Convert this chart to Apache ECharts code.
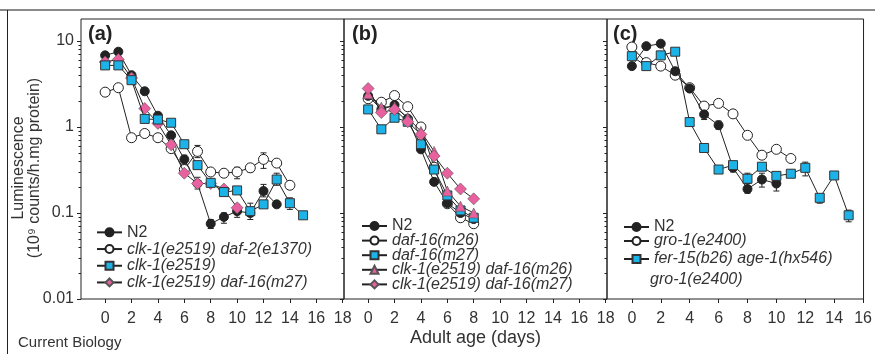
<!DOCTYPE html>
<html>
<head>
<meta charset="utf-8">
<script src="https://cdn.jsdelivr.net/npm/echarts@6/dist/echarts.min.js"></script>
<style>
html, body { margin: 0; background: #fff; }
#chart { width: 875px; height: 354px; }
</style>
</head>
<body>
<div id="chart"></div>
<script>
// x tick labels per panel
const ticksAB = [0, 2, 4, 6, 8, 10, 12, 14, 16, 18]
const ticksC = [0, 2, 4, 6, 8, 10, 12, 14, 16]
// y (log) ticks
const majorY = [0.01, 0.1, 1, 10]
const minorY = [0.02, 0.03, 0.04, 0.05, 0.06, 0.07, 0.08, 0.09,
    0.2, 0.3, 0.4, 0.5, 0.6, 0.7, 0.8, 0.9, 2, 3, 4, 5, 6, 7, 8, 9]

// panel (a): adult age in days = index
const n2A = [6.8, 7.5, 4.0, 2.6, 1.35, 0.80, 0.42, 0.22, 0.075, 0.09, 0.105, 0.10, 0.18, 0.126]
const clkDaf2A = [2.54, 2.86, 0.75, 0.84, 0.75, 0.56, 0.32, 0.52, 0.30, 0.29, 0.30, 0.335, 0.42, 0.38, 0.21]
const clkA = [5.2, 5.2, 3.5, 1.24, 1.22, 1.12, 0.63, 0.36, 0.224, 0.175, 0.183, 0.105, 0.126, 0.245, 0.13, 0.094]
const clkDaf16A = [5.7, 6.1, 3.7, 1.64, 1.1, 0.62, 0.29, 0.22, 0.22, 0.19, 0.115]
// error bars [day, low, high]
const errA = [[7, 0.44, 0.61], [10, 0.25, 0.34], [11, 0.30, 0.37], [12, 0.33, 0.5], [14, 0.19, 0.23],
    [8, 0.066, 0.084], [9, 0.076, 0.1], [10, 0.089, 0.126], [12, 0.154, 0.215], [6, 0.37, 0.47],
    [11, 0.084, 0.13], [13, 0.21, 0.29], [14, 0.11, 0.15], [7, 0.19, 0.26], [2, 0.68, 0.82], [4, 1.1, 1.36]]

// panel (b)
const n2B = [2.3, 1.6, 1.8, 1.25, 0.55, 0.23, 0.13, 0.1, 0.085]
const daf16m26B = [2.13, 1.94, 2.32, 1.72, 1.0, 0.34, 0.128, 0.088, 0.075]
const daf16m27B = [1.6, 0.94, 1.28, 1.15, 0.63, 0.32, 0.16, 0.107, 0.088]
const clkDaf16m26B = [2.43, 1.7, 1.72, 1.28, 0.89, 0.52, 0.18, 0.12, 0.1]
const clkDaf16m27B = [2.8, 1.47, 1.6, 1.15, 0.82, 0.46, 0.29, 0.19, 0.146]

// panel (c)
const n2C = [5.1, 8.7, 9.3, 4.45, 2.8, 1.40, 1.05, 0.336, 0.19, 0.245, 0.22]
const gro1C = [8.5, 5.6, 5.1, 4.0, 2.86, 1.75, 1.88, 1.42, 0.80, 0.47, 0.55, 0.43]
const ferAgeGroC = [6.65, 5.1, 6.8, 7.5, 1.14, 0.57, 0.32, 0.36, 0.25, 0.345, 0.27, 0.286, 0.335, 0.15, 0.273, 0.094]
const errC = [[5, 1.22, 1.6], [6, 0.94, 1.17], [8, 0.17, 0.22], [9, 0.2, 0.29], [10, 0.18, 0.25],
    [8, 0.22, 0.29], [12, 0.27, 0.39], [13, 0.13, 0.16], [15, 0.079, 0.108], [14, 0.25, 0.3], [7, 0.3, 0.37]]

const FONT = 'Liberation Sans, Arial, sans-serif'
const INK = '#222'
const BLUE = '#1cb3e8'
const PINK = '#e9609f'

const chart = echarts.init(document.getElementById('chart'))

function marks(kind) {
    if (kind === 'dot') return { symbol: 'circle', symbolSize: 9, itemStyle: { color: INK, borderColor: INK, borderWidth: 1 } }
    if (kind === 'open') return { symbol: 'circle', symbolSize: 10, itemStyle: { color: '#fff', borderColor: INK, borderWidth: 1 } }
    if (kind === 'square') return { symbol: 'rect', symbolSize: 9, itemStyle: { color: BLUE, borderColor: '#333', borderWidth: 1 } }
    if (kind === 'diamond') return { symbol: 'diamond', symbolSize: 12, itemStyle: { color: PINK, borderColor: '#555', borderWidth: 0.6 } }
    return { symbol: 'triangle', symbolSize: 10, itemStyle: { color: PINK, borderColor: '#555', borderWidth: 0.6 } }
}

function line(name, gi, vals, kind, z) {
    return Object.assign({
        name: name,
        type: 'line',
        xAxisIndex: gi,
        yAxisIndex: gi,
        data: vals.map((v, i) => [i, v]),
        showAllSymbol: true,
        lineStyle: { color: INK, width: 1 },
        z: z || 3,
        animation: false
    }, marks(kind))
}

function errBars(gi, data) {
    return {
        type: 'custom',
        xAxisIndex: gi,
        yAxisIndex: gi,
        data: data,
        z: 2,
        animation: false,
        renderItem: function (params, api) {
            const lo = api.coord([api.value(0), api.value(1)])
            const hi = api.coord([api.value(0), api.value(2)])
            const st = { stroke: INK, lineWidth: 1 }
            return {
                type: 'group',
                children: [
                    { type: 'line', shape: { x1: lo[0], y1: lo[1], x2: hi[0], y2: hi[1] }, style: st },
                    { type: 'line', shape: { x1: lo[0] - 3, y1: lo[1], x2: lo[0] + 3, y2: lo[1] }, style: st },
                    { type: 'line', shape: { x1: hi[0] - 3, y1: hi[1], x2: hi[0] + 3, y2: hi[1] }, style: st }
                ]
            }
        }
    }
}

function xAx(gi, min, max, ticks, name) {
    return {
        type: 'value', gridIndex: gi, min: min, max: max,
        name: name || '', nameLocation: 'middle', nameGap: 30, nameMoveOverlap: false,
        nameTextStyle: { fontFamily: FONT, fontSize: 18, color: '#333' },
        axisLine: { show: false, onZero: false },
        splitLine: { show: false },
        axisTick: { length: 4, lineStyle: { color: INK }, customValues: ticks },
        axisLabel: { customValues: ticks, margin: 12, fontFamily: FONT, fontSize: 16, color: '#333' }
    }
}

// major ticks (with labels on panel a) and a twin axis for the minor ticks
function yAx(gi, labels) {
    return {
        type: 'log', logBase: 10, gridIndex: gi, min: 0.01, max: 18,
        axisLine: { show: false, onZero: false },
        splitLine: { show: false },
        axisTick: { length: 4, lineStyle: { color: INK }, customValues: majorY },
        axisLabel: { show: labels, customValues: majorY, margin: 7, fontFamily: FONT, fontSize: 16, color: '#333' }
    }
}
function yMinor(gi) {
    return {
        type: 'log', logBase: 10, gridIndex: gi, min: 0.01, max: 18, position: 'left',
        axisLine: { show: false, onZero: false },
        splitLine: { show: false },
        axisTick: { length: 2.5, lineStyle: { color: INK }, customValues: minorY },
        axisLabel: { show: false }
    }
}

function legend(left, top, lh, gap, names) {
    return {
        orient: 'vertical', left: left, top: top,
        itemWidth: 25, itemHeight: 10, itemGap: gap,
        selectedMode: false,
        data: names,
        formatter: n => (n === 'N2' ? '{n|N2}' : '{i|' + n + '}'),
        textStyle: {
            fontFamily: FONT, fontSize: 16, color: '#333', lineHeight: lh,
            rich: {
                n: { fontFamily: FONT, fontSize: 16, color: '#333', lineHeight: lh },
                i: { fontFamily: FONT, fontSize: 16, color: '#333', fontStyle: 'italic', lineHeight: lh }
            }
        }
    }
}

const gridBox = { show: true, borderColor: INK, borderWidth: 1, backgroundColor: 'transparent' }

chart.setOption({
    backgroundColor: '#fff',
    textStyle: { fontFamily: FONT },
    grid: [
        Object.assign({ left: 81, top: 19, width: 263, height: 280 }, gridBox),
        Object.assign({ left: 344, top: 19, width: 263, height: 280 }, gridBox),
        Object.assign({ left: 607, top: 19, width: 261, height: 280 }, gridBox)
    ],
    xAxis: [
        xAx(0, -1.83, 18.1, ticksAB),
        xAx(1, -1.83, 18.1, ticksAB, 'Adult age (days)'),
        xAx(2, -1.72, 16.03, ticksC)
    ],
    yAxis: [yAx(0, true), yAx(1, false), yAx(2, false), yMinor(0), yMinor(1), yMinor(2)],
    legend: [
        legend(91, 219, 16.7, 0, ['N2', 'clk-1(e2519) daf-2(e1370)', 'clk-1(e2519)', 'clk-1(e2519) daf-16(m27)']),
        legend(356, 213, 16, -1.4, ['N2', 'daf-16(m26)', 'daf-16(m27)', 'clk-1(e2519) daf-16(m26)', 'clk-1(e2519) daf-16(m27)']),
        legend(618, 214, 16, -2, ['N2', 'gro-1(e2400)']),
        legend(618, 246, 16, 0, ['fer-15(b26) age-1(hx546)'])
    ],
    graphic: [
        { type: 'line', shape: { x1: 0, y1: 10, x2: 875, y2: 10 }, style: { stroke: '#8a8a8a', lineWidth: 2 } },
        { type: 'line', shape: { x1: 7.5, y1: 10, x2: 7.5, y2: 354 }, style: { stroke: INK, lineWidth: 1 } },
        { type: 'text', x: 88, y: 34, style: { text: '(a)', fontFamily: FONT, fontSize: 20, fontWeight: 'bold', fill: '#222', verticalAlign: 'middle' } },
        { type: 'text', x: 352, y: 34, style: { text: '(b)', fontFamily: FONT, fontSize: 20, fontWeight: 'bold', fill: '#222', verticalAlign: 'middle' } },
        { type: 'text', x: 613, y: 34, style: { text: '(c)', fontFamily: FONT, fontSize: 20, fontWeight: 'bold', fill: '#222', verticalAlign: 'middle' } },
        { type: 'text', x: 650, y: 280, style: { text: 'gro-1(e2400)', fontFamily: FONT, fontSize: 16, fontStyle: 'italic', fill: '#333', verticalAlign: 'middle' } },
        { type: 'text', x: 27, y: 168, rotation: Math.PI / 2, style: { text: 'Luminescence\n(10⁹ counts/h.mg protein)', fontFamily: FONT, fontSize: 16, lineHeight: 16, fill: '#333', align: 'center', verticalAlign: 'middle' } },
        { type: 'text', x: 18, y: 343, style: { text: 'Current Biology', fontFamily: FONT, fontSize: 15, fill: '#333', verticalAlign: 'middle' } }
    ],
    series: [
        errBars(0, errA),
        line('N2', 0, n2A, 'dot', 4),
        line('clk-1(e2519) daf-2(e1370)', 0, clkDaf2A, 'open', 3),
        line('clk-1(e2519) daf-16(m27)', 0, clkDaf16A, 'diamond', 5),
        line('clk-1(e2519)', 0, clkA, 'square', 6),

        line('N2', 1, n2B, 'dot', 4),
        line('daf-16(m26)', 1, daf16m26B, 'open', 3),
        line('daf-16(m27)', 1, daf16m27B, 'square', 5),
        line('clk-1(e2519) daf-16(m26)', 1, clkDaf16m26B, 'triangle', 6),
        line('clk-1(e2519) daf-16(m27)', 1, clkDaf16m27B, 'diamond', 7),

        errBars(2, errC),
        line('N2', 2, n2C, 'dot', 4),
        line('gro-1(e2400)', 2, gro1C, 'open', 3),
        line('fer-15(b26) age-1(hx546)', 2, ferAgeGroC, 'square', 5)
    ]
})
</script>
</body>
</html>
